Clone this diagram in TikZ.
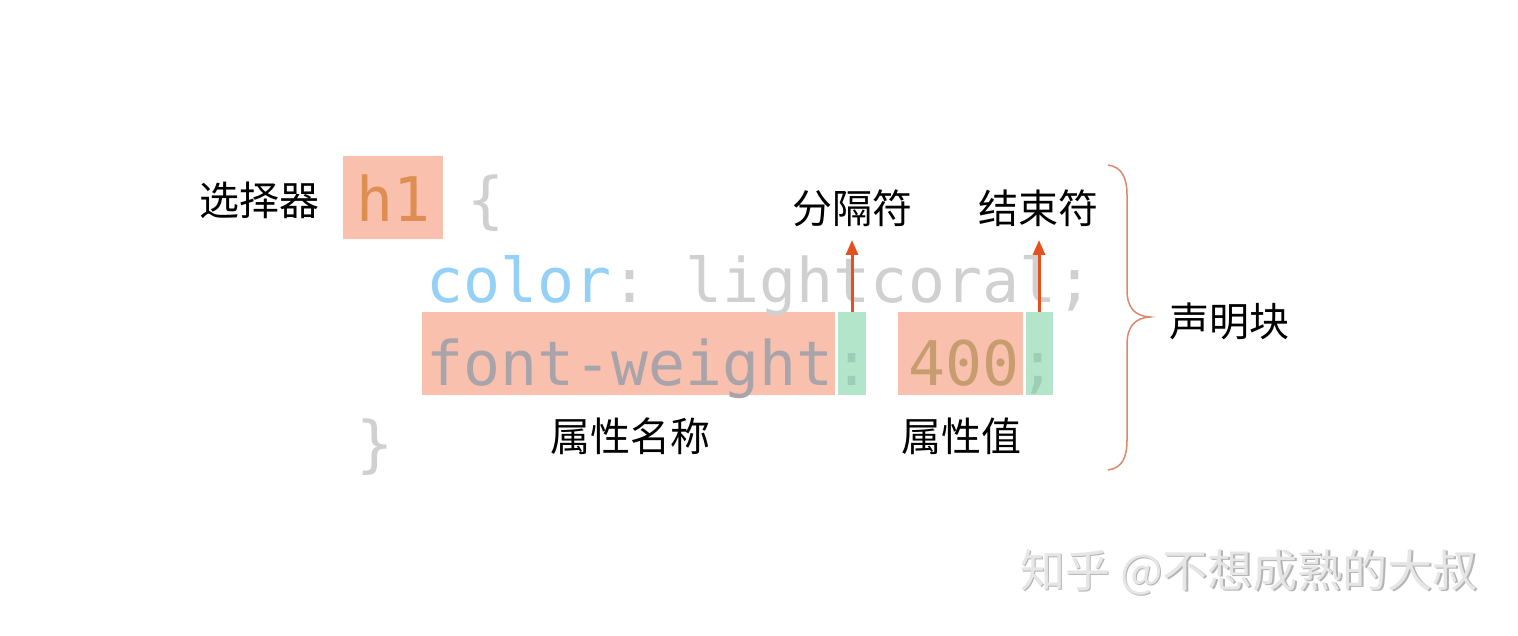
\documentclass[tikz,border=0pt]{standalone}
\usepackage{fontspec}
\usetikzlibrary{arrows.meta}
\newfontfamily\codefont{DejaVu Sans Mono}
\newfontfamily\cjk{Noto Sans CJK SC}
\frenchspacing
\definecolor{boxcoral}{HTML}{F8C0AD}
\definecolor{boxgreen}{HTML}{B2E5CA}
\definecolor{hone}{HTML}{DE8E52}
\definecolor{codegray}{HTML}{D0D0D0}
\definecolor{codeblue}{HTML}{95D1F7}
\definecolor{fwtext}{HTML}{A9A3AA}
\definecolor{numtext}{HTML}{C79D6F}
\definecolor{sepgreen}{HTML}{9DCDB4}
\definecolor{arrowred}{HTML}{E5501E}
\definecolor{bracecol}{HTML}{D98A6C}
\definecolor{wmark}{HTML}{E6E6E6}
\definecolor{wshadow}{HTML}{B4B4B4}
\tikzset{
  hlbox/.style={fill=boxcoral, draw=none, inner sep=0pt},
  sepbox/.style={fill=boxgreen, draw=none, inner sep=0pt},
  codeline/.style={anchor=base west, inner sep=0pt, font=\codefont\fontsize{61.5}{70}\selectfont},
  label/.style={inner sep=0pt, font=\cjk\fontsize{40}{48}\selectfont, text=black},
  arr/.style={draw=arrowred, line width=3pt, -{Triangle[length=15pt,width=12pt]}},
  bigbrace/.style={draw=bracecol, line width=1.5pt},
  wm/.style={inner sep=0pt, font=\cjk\fontsize{45}{50}\selectfont}
}
\begin{document}
\begin{tikzpicture}[x=1pt,y=-1pt]
\useasboundingbox (0,0) rectangle (1518,636);
\fill[white] (0,0) rectangle (1518,636);
% highlight boxes
\node[hlbox, minimum width=100pt, minimum height=83pt] (h1box) at (393,197.5) {};
\node[hlbox, minimum width=413pt, minimum height=83pt] (namebox) at (628.5,353.5) {};
\node[sepbox, minimum width=28pt, minimum height=83pt] (sep1) at (852,353.5) {};
\node[hlbox, minimum width=125pt, minimum height=83pt] (valbox) at (960.5,353.5) {};
\node[sepbox, minimum width=27pt, minimum height=83pt] (sep2) at (1039.5,353.5) {};
% code lines
\node[codeline] (l1) at (356,222) {\textcolor{hone}{h1} \textcolor{codegray}{\{}};
\node[codeline] (l2) at (426.5,303) {\textcolor{codeblue}{color}\textcolor{codegray}{: lightcoral;}};
\node[codeline] (l3) at (426.5,385) {\textcolor{fwtext}{font-weight}\textcolor{sepgreen}{:} \textcolor{numtext}{400}\textcolor{sepgreen}{;}};
\node[codeline] (l4) at (356,465) {\textcolor{codegray}{\}}};
% labels
\node[label] (sel) at (259,200) {选择器};
\node[label] (seplab) at (852,208) {分隔符};
\node[label] (endlab) at (1038,208) {结束符};
\node[label] (namelab) at (630,436) {属性名称};
\node[label] (vallab) at (961,436) {属性值};
\node[label] (decl) at (1229,321) {声明块};
% arrows
\coordinate (t1) at (852,240);
\coordinate (t2) at (1039,240);
\draw[arr] (sep1.north) -- (t1);
\draw[arr] (sep2.north -| t2) -- (t2);
% big brace
\draw[bigbrace] (1108,165) .. controls (1122,167) and (1127,178) .. (1127,195)
  -- (1127,290) .. controls (1127,308) and (1135,316) .. (1150,317)
  .. controls (1135,318) and (1127,326) .. (1127,345)
  -- (1127,440) .. controls (1127,458) and (1122,468) .. (1108,470);
% watermark
\node[wm, text=wshadow] (wms) at (1250.2,573.2) {知乎 @不想成熟的大叔};
\node[wm, text=wmark] (wmt) at (1249,572) {知乎 @不想成熟的大叔};
\end{tikzpicture}
\end{document}
